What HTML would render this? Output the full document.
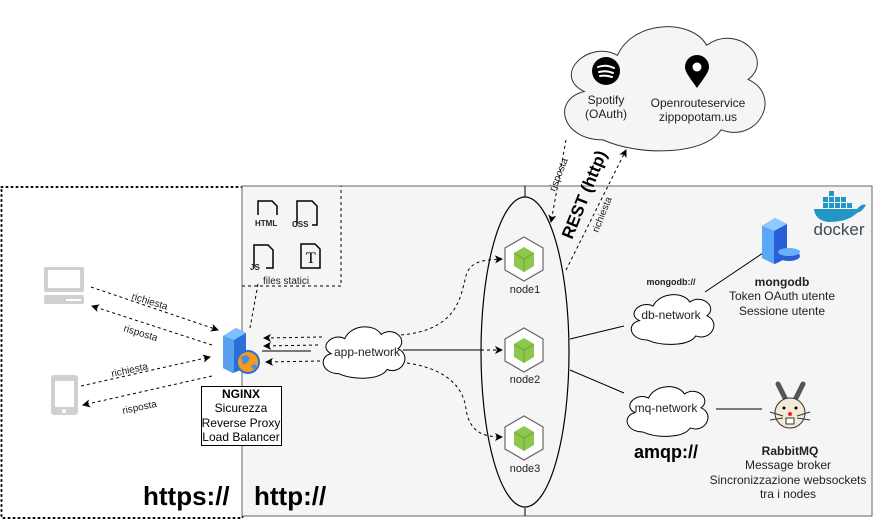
<!DOCTYPE html>
<html><head><meta charset="utf-8"><style>
body{margin:0;background:#fff}
svg{display:block;font-family:"Liberation Sans",sans-serif}
</style></head><body>
<svg width="883" height="530" viewBox="0 0 883 530" xmlns="http://www.w3.org/2000/svg">
<defs>
<marker id="a" markerWidth="8" markerHeight="8" refX="7" refY="4" orient="auto" markerUnits="userSpaceOnUse"><path d="M0,0 L8,4 L0,8 L2,4 Z" fill="#000"/></marker>
<symbol id="cloud" viewBox="-2 -2 110 72" preserveAspectRatio="none"><path d="M25,60 C5,60 0,40 16,36 C0,28 18,10 32,18 C40,0 68,0 75,13 C90,2 108,20 95,30 C112,38 100,62 82,55 C74,68 42,68 25,60 Z" vector-effect="non-scaling-stroke"/></symbol>
<g id="node"><path d="M0,-22 L19,-11 L19,11 L0,22 L-19,11 L-19,-11 Z" fill="#fff" stroke="#666" stroke-width="1.2"/><path d="M0,-12 L10,-6 L10,7 L0,13 L-10,7 L-10,-6 Z" fill="#8cc84b"/><path d="M-10,-6 L0,0 L10,-6 M0,0 L0,13" stroke="#6fa23a" fill="none" stroke-width="1"/></g>
</defs>
<!-- dotted outer -->
<rect x="1.5" y="187" width="241" height="331" fill="none" stroke="#000" stroke-width="2" stroke-dasharray="1 4" stroke-linecap="round"/>
<!-- grey container -->
<rect x="242" y="186" width="630" height="330" fill="#f5f5f5" stroke="#666" stroke-width="1"/>
<!-- files box -->
<path d="M242,286 H341 V186" fill="none" stroke="#000" stroke-dasharray="3 3"/>
<line x1="258" y1="284" x2="250" y2="328" stroke="#000" stroke-dasharray="3 3"/>
<g fill="none" stroke="#000" stroke-width="1.5">
<path d="M258,215 V201 H272 L277,206 V215"/><path d="M297,225 V201 H312 L317,206 V225 H312"/>
<path d="M254,268 V245 H268 L273,250 V268 H266"/><path d="M301,268 V244 H315 L320,249 V268 Z"/>
</g>
<g font-size="8" font-weight="bold" fill="#222"><text x="255" y="226">HTML</text><text x="292" y="227">CSS</text><text x="250" y="270">JS</text></g>
<text x="306" y="263" font-family="Liberation Serif" font-size="16" fill="#000">T</text>
<text x="263" y="284" font-size="10" fill="#222">files statici</text>
<!-- top cloud -->
<svg x="547" y="15" width="228" height="145"><use href="#cloud" fill="#f5f5f5" stroke="#333" stroke-width="1"/></svg>
<circle cx="606" cy="71" r="14" fill="#000"/>
<path d="M598,67 Q606,64 614,68 M599,72 Q606,70 613,73 M600,76 Q606,75 612,77" stroke="#fff" stroke-width="2" fill="none" stroke-linecap="round"/>
<path d="M697,88 C690,78 685,72 685,67 A12,12 0 0 1 709,67 C709,72 704,78 697,88 Z" fill="#000"/><circle cx="697" cy="67" r="4.5" fill="#fff"/>
<g font-size="12" fill="#222" text-anchor="middle"><text x="606" y="104">Spotify</text><text x="606" y="118">(OAuth)</text>
<text x="698" y="107">Openrouteservice</text><text x="698" y="121">zippopotam.us</text></g>
<!-- REST lines -->
<line x1="566" y1="140" x2="551" y2="222" stroke="#000" stroke-dasharray="3 3" marker-end="url(#a)"/>
<line x1="566" y1="270" x2="626" y2="150" stroke="#000" stroke-dasharray="3 3" marker-end="url(#a)"/>
<text transform="translate(555,192) rotate(-68)" font-size="10" fill="#222">risposta</text>
<text transform="translate(598,233) rotate(-68)" font-size="10" fill="#222">richiesta</text>
<text transform="translate(572,240) rotate(-68)" font-size="17" font-weight="bold" fill="#000">REST (http)</text>
<!-- ellipse -->
<line x1="525" y1="186" x2="525" y2="197" stroke="#000"/><line x1="525" y1="508" x2="525" y2="516" stroke="#000"/>
<ellipse cx="525" cy="352" rx="44" ry="155" fill="none" stroke="#000" stroke-width="1.2"/>
<use href="#node" x="524" y="259"/><use href="#node" x="524" y="350"/><use href="#node" x="524" y="438"/>
<g font-size="11" fill="#222" text-anchor="middle"><text x="525" y="293">node1</text><text x="525" y="383">node2</text><text x="525" y="472">node3</text></g>
<!-- app-network -->
<path d="M403,350 H481" stroke="#000"/>
<line x1="403" y1="350" x2="502" y2="350" stroke="#000" stroke-dasharray="3 3" marker-end="url(#a)"/>
<path d="M401,335 C455,330 460,300 465,280 C468,262 480,260 502,259" fill="none" stroke="#000" stroke-dasharray="3 3" marker-end="url(#a)"/>
<path d="M407,363 C455,370 465,395 466,410 C470,430 480,437 502,437" fill="none" stroke="#000" stroke-dasharray="3 3" marker-end="url(#a)"/>
<line x1="322" y1="337" x2="264" y2="338" stroke="#000" stroke-dasharray="3 3" marker-end="url(#a)"/>
<line x1="318" y1="345" x2="264" y2="346" stroke="#000" stroke-dasharray="3 3" marker-end="url(#a)"/>
<line x1="320" y1="361" x2="266" y2="362" stroke="#000" stroke-dasharray="3 3" marker-end="url(#a)"/>
<line x1="262" y1="351" x2="311" y2="351" stroke="#000"/>
<svg x="316" y="322" width="93" height="60"><use href="#cloud" fill="#fff" stroke="#000"/></svg>
<text x="367" y="356" font-size="12" fill="#222" text-anchor="middle">app-network</text>
<!-- NGINX -->
<path d="M223,336 L236,328 L246,333 L246,368 L233,373 L223,368 Z" fill="#2a6fd6"/><path d="M223,336 L236,328 L246,333 L234,340 Z" fill="#7ec0ff"/><path d="M223,336 L234,340 L234,373 L223,368 Z" fill="#5aa0f0"/>
<circle cx="248" cy="362" r="11" fill="#f39a1f" stroke="#2a6fd6" stroke-width="2"/><path d="M241,357 Q246,353 250,358 Q247,365 243,364 Z M251,366 Q256,362 257,368 Q253,371 251,366 Z" fill="#4a90e2"/>
<rect x="201.5" y="386.5" width="80" height="59" fill="#fff" stroke="#000"/>
<g font-size="12" fill="#000" text-anchor="middle"><text x="241" y="398" font-weight="bold">NGINX</text><text x="241" y="412">Sicurezza</text><text x="241" y="427">Reverse Proxy</text><text x="241" y="441">Load Balancer</text></g>
<!-- clients -->
<rect x="44" y="267" width="40" height="25" rx="2" fill="#d0d0d0"/><rect x="48" y="270" width="32" height="18" fill="#fff"/><rect x="44" y="295" width="40" height="9" rx="2" fill="#d0d0d0"/><rect x="66" y="299" width="15" height="2" fill="#fff"/>
<rect x="51" y="375" width="27" height="40" rx="3" fill="#d0d0d0"/><rect x="55" y="381" width="19" height="26" fill="#fff"/><circle cx="64" cy="411" r="2" fill="#fff"/>
<line x1="91" y1="287" x2="218" y2="330" stroke="#000" stroke-dasharray="3 3" marker-end="url(#a)"/>
<line x1="212" y1="345" x2="92" y2="306" stroke="#000" stroke-dasharray="3 3" marker-end="url(#a)"/>
<line x1="81" y1="386" x2="210" y2="357" stroke="#000" stroke-dasharray="3 3" marker-end="url(#a)"/>
<line x1="212" y1="376" x2="83" y2="405" stroke="#000" stroke-dasharray="3 3" marker-end="url(#a)"/>
<g font-size="10" fill="#222"><text transform="translate(131,299) rotate(17)">richiesta</text><text transform="translate(123,331) rotate(17)">risposta</text>
<text transform="translate(112,377) rotate(-12)">richiesta</text><text transform="translate(123,414) rotate(-12)">risposta</text></g>
<!-- https -->
<text x="143" y="505" font-size="26" font-weight="bold" fill="#000">https://</text>
<text x="254" y="505" font-size="26" font-weight="bold" fill="#000">http://</text>
<!-- db -->
<line x1="570" y1="339" x2="624" y2="326" stroke="#000"/>
<line x1="705" y1="292" x2="763" y2="253" stroke="#000"/>
<svg x="624" y="290" width="94" height="58"><use href="#cloud" fill="#fff" stroke="#000"/></svg>
<text x="671" y="319" font-size="12" fill="#222" text-anchor="middle">db-network</text>
<text x="671" y="285" font-size="9" font-weight="bold" fill="#222" text-anchor="middle">mongodb://</text>
<path d="M762,226 L775,218 L787,224 L787,258 L775,264 L762,258 Z" fill="#2a5ed6"/><path d="M762,226 L775,218 L787,224 L774,231 Z" fill="#8ec8ff"/><path d="M762,226 L774,231 L774,264 L762,258 Z" fill="#5aa8f5"/>
<ellipse cx="789" cy="256" rx="11" ry="5" fill="#2a5ed6"/><ellipse cx="789" cy="252" rx="11" ry="4" fill="#6ab0f8"/>
<g font-size="12" fill="#222" text-anchor="middle"><text x="782" y="286" font-weight="bold">mongodb</text><text x="782" y="300">Token OAuth utente</text><text x="782" y="315">Sessione utente</text></g>
<!-- mq -->
<line x1="570" y1="370" x2="624" y2="393" stroke="#000"/>
<line x1="716" y1="409" x2="762" y2="409" stroke="#000"/>
<svg x="620" y="382" width="92" height="58"><use href="#cloud" fill="#fff" stroke="#000"/></svg>
<text x="666" y="412" font-size="12" fill="#222" text-anchor="middle">mq-network</text>
<text x="666" y="458" font-size="18" font-weight="bold" fill="#000" text-anchor="middle">amqp://</text>
<path d="M778,384 L787,402 M803,384 L794,402" stroke="#555" stroke-width="5" stroke-linecap="round"/>
<circle cx="790" cy="413" r="15" fill="#f3ead8" stroke="#333"/>
<circle cx="784" cy="408" r="1.5" fill="#000"/><circle cx="796" cy="408" r="1.5" fill="#000"/><circle cx="790" cy="414" r="2" fill="#e22"/>
<path d="M770,412 L783,416 M770,420 L783,418 M810,412 L797,416 M810,420 L797,418" stroke="#333"/>
<rect x="786" y="418" width="8" height="6" fill="#fff" stroke="#333"/>
<g font-size="12" fill="#222" text-anchor="middle"><text x="790" y="455" font-weight="bold">RabbitMQ</text><text x="788" y="469">Message broker</text><text x="788" y="484">Sincronizzazione websockets</text><text x="788" y="498">tra i nodes</text></g>
<!-- docker -->
<g fill="#2396c8"><rect x="829" y="191" width="5" height="5"/><rect x="823" y="197" width="5" height="5"/><rect x="829" y="197" width="5" height="5"/><rect x="835" y="197" width="5" height="5"/><rect x="841" y="197" width="5" height="5"/><rect x="823" y="203" width="5" height="5"/><rect x="829" y="203" width="5" height="5"/><rect x="835" y="203" width="5" height="5"/><rect x="841" y="203" width="5" height="5"/><rect x="847" y="203" width="5" height="5"/>
<path d="M814,209 H857 Q862,203 866,205 Q862,212 857,213 Q848,222 828,222 Q815,220 814,209 Z"/></g>
<text x="839" y="235" font-size="17" fill="#394d54" text-anchor="middle">docker</text>
</svg>
</body></html>
